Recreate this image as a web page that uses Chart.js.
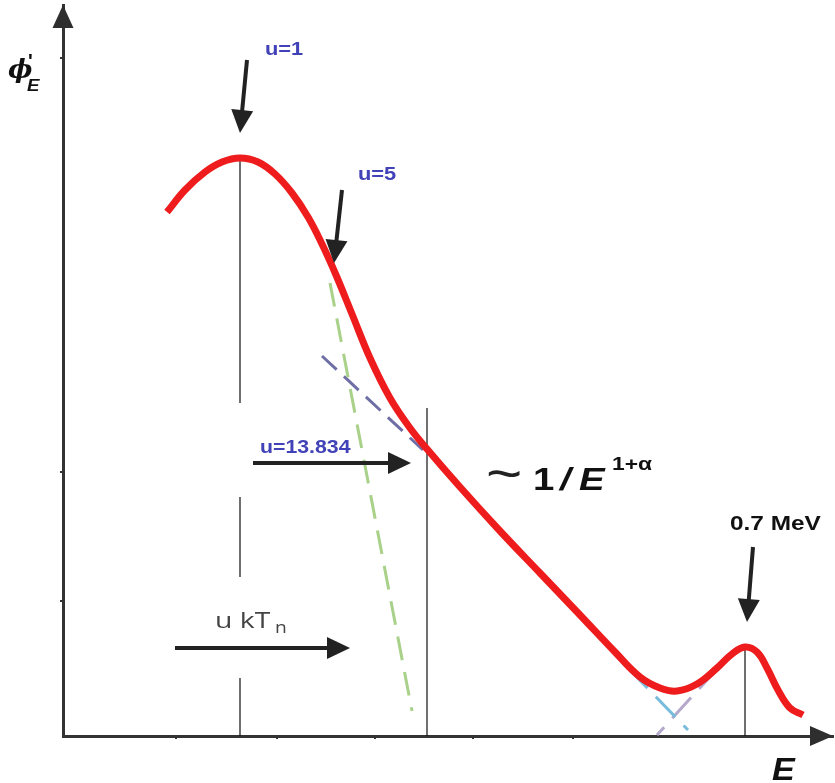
<!DOCTYPE html>
<html>
<head>
<meta charset="utf-8">
<script src="https://cdn.jsdelivr.net/npm/chart.js@4/dist/chart.umd.min.js"></script>
<style>
html,body{margin:0;padding:0;background:#fff;}
#wrap{width:835px;height:783px;}
</style>
</head>
<body>
<div id="wrap"><canvas id="spectrum" width="835" height="783"></canvas></div>
<script>
// neutron spectrum sketch, arbitrary units (E to the right, phi'_E upward)
var curveE   = [10.4,12.2,14.2,15.9,17.7,19.5,21.2,22.9,24.5,25.9,27.3,28.9,30.7,32.7,34.7,36.4,39.7,43.7,47.7,51.7,55.2,57.7,59.7,61.4,63.4,65.4,66.9,68.2,69.4,70.4,71.5,72.7,74.0];
var curvePhi = [52.4,54.6,56.4,57.4,57.8,57.4,56.2,54.3,51.9,49.2,46.1,42.2,37.8,33.8,30.8,28.7,24.9,20.5,16.3,12.1,8.4,5.9,4.8,4.5,5.2,6.8,8.2,8.9,8.4,6.8,4.6,2.8,2.1];

// dashed asymptotes (two end points each)
var maxwellE   = [26.7, 34.9];
var maxwellPhi = [45.3, 2.5];
var slowE      = [25.9, 36.0];
var slowPhi    = [38.0, 28.6];
var fallE      = [56.5, 62.5];
var fallPhi    = [6.8, 0.6];
var fissionE   = [65.5, 59.4];
var fissionPhi = [6.8, 0.1];

// thin vertical markers: E, top, bottom (gaps where labels sit)
var markerE   = [17.7, 17.7, 17.7, 36.4, 68.2];
var markerTop = [57.8, 23.9, 5.8, 32.8, 8.9];
var markerBot = [33.3, 15.9, 0, 0, 0];

// small tick dots on the axes
var xTickMarks = [11.3, 21.4, 31.2, 41.0, 51.0];
var yTickMarks = [13.5, 26.4, 67.8];

function pts(xs, ys) {
  var out = [];
  for (var i = 0; i < xs.length; i++) out.push({x: xs[i], y: ys[i]});
  return out;
}

var datasets = [];
datasets.push({
  data: pts(curveE, curvePhi),
  borderColor: '#ee1c1c',
  borderWidth: 7,
  tension: 0.4,
  borderCapStyle: 'butt'
});
var dashes = [
  [maxwellE, maxwellPhi, '#a9d18a', [24, 12]],
  [slowE, slowPhi, '#6f6fa6', [20, 10]],
  [fallE, fallPhi, '#78bcdc', [28, 12]],
  [fissionE, fissionPhi, '#b4a8cc', [28, 12]]
];
dashes.forEach(function (d) {
  datasets.push({ data: pts(d[0], d[1]), borderColor: d[2], borderWidth: 3, borderDash: d[3] });
});
for (var i = 0; i < markerE.length; i++) {
  datasets.push({
    data: [{x: markerE[i], y: markerTop[i]}, {x: markerE[i], y: markerBot[i]}],
    borderColor: '#111', borderWidth: 1.2
  });
}
datasets.forEach(function (d, i) {
  d.showLine = true;
  d.pointRadius = 0;
  d.fill = false;
  d.order = i;
});

// arrows: [fromE, fromPhi, tipE, tipPhi]
var arrows = [
  [18.4, 67.6, 17.7, 60.3],
  [27.9, 54.6, 27.1, 47.3],
  [19.0, 27.3, 34.8, 27.3],
  [11.2, 8.8, 28.7, 8.8],
  [69.0, 18.9, 68.4, 11.4]
];

// text runs anchored at (E, phi) = left end of baseline
var labels = [
  {t: 'u=1', e: 20.2, p: 68.1, font: 'bold 19px "Liberation Sans"', c: '#4242b8', s: 1.15},
  {t: 'u=5', e: 29.5, p: 55.6, font: 'bold 19px "Liberation Sans"', c: '#4242b8', s: 1.15},
  {t: 'u=13.834', e: 19.7, p: 28.3, font: 'bold 19px "Liberation Sans"', c: '#4242b8', s: 1.12},
  {t: '0.7 MeV', e: 66.7, p: 20.6, font: 'bold 20px "Liberation Sans"', c: '#111', s: 1.22},
  {t: '~', e: 42.3, p: 24.4, font: '54px "Liberation Sans"', c: '#222', s: 1.15},
  {t: '1', e: 47.0, p: 24.6, font: 'bold 32px "Liberation Sans"', c: '#111', s: 1.2},
  {t: '/', e: 49.7, p: 24.6, font: 'italic bold 32px "Liberation Sans"', c: '#111', s: 1.2},
  {t: 'E', e: 51.6, p: 24.6, font: 'italic bold 32px "Liberation Sans"', c: '#111', s: 1.2},
  {t: '1+α', e: 54.9, p: 26.6, font: 'bold 19px "Liberation Sans"', c: '#111', s: 1.2},
  {t: 'u kT', e: 15.2, p: 10.8, font: '21px "Open Sans"', c: '#444', s: 1.35},
  {t: 'n', e: 21.2, p: 10.3, font: '16px "Open Sans"', c: '#444', s: 1.2},
  {t: 'E', e: 70.9, p: -4.4, font: 'italic bold 31px "Liberation Sans"', c: '#111', s: 1.1},
  {t: 'ϕ', e: -5.5, p: 65.8, font: 'italic bold 26px "DejaVu Serif"', c: '#111', s: 1.0},
  {t: '\'', e: -3.5, p: 66.8, font: 'bold 20px "Liberation Sans"', c: '#111', s: 1.0},
  {t: 'E', e: -3.6, p: 64.5, font: 'italic bold 17px "Liberation Sans"', c: '#111', s: 1.1}
];

function head(ctx, fx, fy, tx, ty, len, half) {
  var a = Math.atan2(ty - fy, tx - fx);
  var cx = Math.cos(a), cy = Math.sin(a);
  ctx.beginPath();
  ctx.moveTo(tx, ty);
  ctx.lineTo(tx - len * cx - half * cy, ty - len * cy + half * cx);
  ctx.lineTo(tx - len * cx + half * cy, ty - len * cy - half * cx);
  ctx.closePath();
  ctx.fill();
}

const annotate = {
  id: 'annotate',
  afterDraw: function (chart) {
    var ctx = chart.ctx, xs = chart.scales.x, ys = chart.scales.y, ca = chart.chartArea;
    ctx.save();
    // axis arrow heads
    ctx.fillStyle = '#2e2e2e';
    head(ctx, ca.left, ca.top + 40, ca.left, ca.top, 23, 10.5);
    head(ctx, ca.right - 40, ca.bottom, ca.right, ca.bottom, 23, 10);
    // annotation arrows
    ctx.fillStyle = '#222';
    ctx.strokeStyle = '#222';
    ctx.lineWidth = 4;
    arrows.forEach(function (a) {
      var fx = xs.getPixelForValue(a[0]), fy = ys.getPixelForValue(a[1]);
      var tx = xs.getPixelForValue(a[2]), ty = ys.getPixelForValue(a[3]);
      var ang = Math.atan2(ty - fy, tx - fx);
      ctx.beginPath();
      ctx.moveTo(fx, fy);
      ctx.lineTo(tx - 18 * Math.cos(ang), ty - 18 * Math.sin(ang));
      ctx.stroke();
      head(ctx, fx, fy, tx, ty, 23, 11);
    });
    // texts
    ctx.textBaseline = 'alphabetic';
    ctx.textAlign = 'left';
    labels.forEach(function (l) {
      ctx.save();
      ctx.translate(xs.getPixelForValue(l.e), ys.getPixelForValue(l.p));
      ctx.scale(l.s, 1);
      ctx.font = l.font;
      ctx.fillStyle = l.c;
      ctx.fillText(l.t, 0, 0);
      ctx.restore();
    });
    ctx.restore();
  }
};

const axisStyle = function (marks, fitSide, fitSize) {
  return {
    type: 'linear',
    ticks: { display: false },
    grid: { drawOnChartArea: false, drawTicks: true, tickLength: 3, color: '#333', lineWidth: 2 },
    border: { display: true, color: '#333', width: 3 },
    afterBuildTicks: function (scale) {
      scale.ticks = marks.map(function (v) { return {value: v}; });
    },
    afterFit: function (scale) { scale[fitSide] = fitSize; }
  };
};

var xAxis = axisStyle(xTickMarks, 'height', 47);
xAxis.min = 0; xAxis.max = 77; xAxis.position = 'bottom';
var yAxis = axisStyle(yTickMarks, 'width', 63);
yAxis.min = 0; yAxis.max = 73.1; yAxis.position = 'left';

const spectrumChart = new Chart(document.getElementById('spectrum').getContext('2d'), {
  type: 'scatter',
  data: { datasets: datasets },
  options: {
    responsive: false,
    animation: false,
    events: [],
    layout: { padding: { top: 5, right: 2, left: 0, bottom: 0 } },
    scales: { x: xAxis, y: yAxis },
    plugins: { legend: { display: false }, tooltip: { enabled: false } }
  },
  plugins: [annotate]
});
</script>
</body>
</html>
